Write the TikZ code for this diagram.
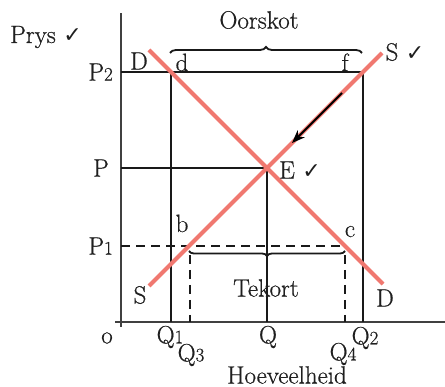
\documentclass[tikz,border=0pt]{standalone}
\usepackage{fontspec}
\setmainfont{Latin Modern Roman}[FakeBold=0.6]
\newfontfamily\symf{DejaVu Sans}
\usetikzlibrary{arrows.meta,decorations.pathreplacing}
\definecolor{curvecol}{RGB}{240,120,112}
\newcommand{\sdig}[1]{{\fontsize{19}{19}\selectfont #1}}
\newcommand{\chk}{{\symf\fontsize{22}{22}\selectfont ✓}}
\begin{document}
\begin{tikzpicture}[x=1pt,y=-1pt,
  lbl/.style={font=\fontsize{25}{27}\selectfont, inner sep=0pt, text=black!88},
  axisline/.style={line width=1.4pt, draw=black!75},
  guide/.style={line width=2pt, draw=black!90},
  dashguide/.style={line width=2pt, draw=black!90, dash pattern=on 9pt off 6pt},
  curveline/.style={draw=curvecol, line width=4pt},
  bracestyle/.style={line width=1.8pt, draw=black!90, decorate},
]
\useasboundingbox (0,0) rectangle (445,387);
% axes
\coordinate (ytop) at (121,13);
\coordinate (ybot) at (121,327);
\coordinate (xl) at (115,322);
\coordinate (xr) at (445,322);
\draw[axisline] (ybot) -- (ytop);
\draw[axisline] (xl) -- (xr);
% guide coordinates
\coordinate (p2a) at (121,72);  \coordinate (p2b) at (363,72);
\coordinate (pa) at (121,168);  \coordinate (E) at (267,168);
\coordinate (p1a) at (121,246); \coordinate (p1b) at (343,246);
\coordinate (q1t) at (171,72);  \coordinate (q1b) at (171,322);
\coordinate (qb) at (267,322);
\coordinate (q2b) at (363,322);
\coordinate (q3t) at (190,255); \coordinate (q3b) at (190,322);
\coordinate (q4t) at (345,255); \coordinate (q4b) at (345,322);
\draw[guide] (p2a) -- (p2b);
\draw[guide] (pa) -- (E);
\draw[dashguide] (p1a) -- (p1b);
\draw[guide] (q1t) -- (q1b);
\draw[guide] (E) -- (qb);
\draw[guide] (p2b) -- (q2b);
\draw[dashguide] (q3t) -- (q3b);
\draw[dashguide] (q4t) -- (q4b);
% braces
\coordinate (ob1) at (170,53); \coordinate (ob2) at (362,53);
\draw[bracestyle, decoration={brace, amplitude=6pt}] (ob1) -- (ob2);
\coordinate (tb1) at (189,251); \coordinate (tb2) at (345,251);
\draw[bracestyle, decoration={brace, amplitude=5pt, mirror}] (tb1) -- (tb2);
% curves
\coordinate (d1) at (149,50); \coordinate (d2) at (383,284);
\coordinate (s1) at (149,286); \coordinate (s2) at (382,53);
\draw[curveline] (d1) -- (d2);
\draw[curveline] (s1) -- (s2);
% arrow
\coordinate (ar1) at (342,93); \coordinate (ar2) at (292,143);
\draw[line width=2pt, -{Stealth[length=13pt,width=10pt,inset=4pt]}] (ar1) -- (ar2);
% labels
\node[lbl] (prys) at (46,37) {Prys \chk};
\node[lbl, anchor=east] (lp2) at (113,72) {P\sdig{2}};
\node[lbl, anchor=east] (lp) at (109,168) {P};
\node[lbl, anchor=east] (lp1) at (113,246) {P\sdig{1}};
\node[lbl] (lo) at (107,338) {o};
\node[lbl] (lq1) at (170,337) {Q\sdig{1}};
\node[lbl] (lq3) at (191,355) {Q\sdig{3}};
\node[lbl] (lq) at (268,337) {Q};
\node[lbl] (lq4) at (343,354) {Q\sdig{4}};
\node[lbl] (lq2) at (365,338) {Q\sdig{2}};
\node[lbl] (hoev) at (287,375) {Hoeveelheid};
\node[lbl] (oorskot) at (259,20) {Oorskot};
\node[lbl] (tekort) at (266,288) {Tekort};
\node[lbl] (ldu) at (139,61) {D};
\node[lbl, anchor=base] (ld) at (182,71) {d};
\node[lbl, anchor=base] (lf) at (345,71) {f};
\node[lbl] (lsu) at (405,52) {S \chk};
\node[lbl] (le) at (300,170) {E \chk};
\node[lbl, anchor=base] (lb) at (182,232) {b};
\node[lbl, anchor=base] (lc) at (350,237) {c};
\node[lbl] (lsl) at (140,295) {S};
\node[lbl] (ldl) at (385,298) {D};
\end{tikzpicture}
\end{document}
